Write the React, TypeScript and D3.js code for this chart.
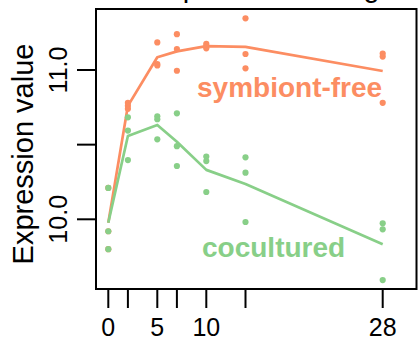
import React from "react";
import * as d3 from "d3";

const days = [0, 2, 5, 7, 10, 14, 28];
const symbiontFree = [
  [10.21, 9.92, 9.8],
  [10.78, 10.76, 10.74],
  [11.185, 11.04, 11.03],
  [11.24, 11.14, 10.995],
  [11.175, 11.16, 11.145],
  [11.346, 11.107, 11.011],
  [11.11, 11.09, 10.78],
];
const cocultured = [
  [10.21, 9.92, 9.8],
  [10.683, 10.594, 10.397],
  [10.69, 10.67, 10.536],
  [10.71, 10.49, 10.357],
  [10.42, 10.39, 10.183],
  [10.415, 10.312, 9.982],
  [9.973, 9.933, 9.593],
];
const xTicks = [0, 2, 5, 7, 10, 14, 28];
const xTickLabels = [0, 5, 10, 28];
const yTicks = [10, 10.5, 11];
const yTickLabels = [10, 11];

const ORANGE = "#FC8D62";
const GREEN = "#88CF88";
const FONT = "'Liberation Sans', Arial, Helvetica, sans-serif";

export default function App() {
  const x = d3.scaleLinear().domain([0, 28]).range([108.3, 382.7]);
  const y = d3.scaleLinear().domain([10, 11]).range([219.3, 70]);
  const box = { l: 96, r: 416.5, t: 9, b: 289 };

  const line = d3
    .line<number>()
    .x((_, i) => x(days[i]))
    .y((v) => y(v));

  const series = [
    { data: symbiontFree, color: ORANGE },
    { data: cocultured, color: GREEN },
  ];

  return (
    <svg
      width={419}
      height={340}
      style={{ position: "absolute", left: 0, top: 0 }}
      fontFamily={FONT}
    >
      <rect width={419} height={340} fill="white" />
      <text x={149} y={-3} fontSize={29} fill="black">
        Expression change
      </text>
      {series.map((s, si) => (
        <g key={si}>
          {s.data.map((reps, i) =>
            reps.map((v, j) => (
              <circle key={`${i}-${j}`} cx={x(days[i])} cy={y(v)} r={3.1} fill={s.color} />
            ))
          )}
          <path
            d={line(s.data.map((reps) => d3.mean(reps) as number)) || ""}
            fill="none"
            stroke={s.color}
            strokeWidth={2.7}
            strokeLinejoin="round"
          />
        </g>
      ))}
      <text x={197} y={97} fontSize={28} fontWeight="bold" fill={ORANGE}>
        symbiont-free
      </text>
      <text x={202} y={257} fontSize={28} fontWeight="bold" fill={GREEN}>
        cocultured
      </text>
      <rect
        x={box.l}
        y={box.t}
        width={box.r - box.l}
        height={box.b - box.t}
        fill="none"
        stroke="black"
        strokeWidth={2}
      />
      {xTicks.map((t) => (
        <line key={t} x1={x(t)} x2={x(t)} y1={box.b} y2={box.b + 19} stroke="black" strokeWidth={2} />
      ))}
      {xTickLabels.map((t) => (
        <text key={t} x={x(t)} y={335.5} fontSize={25} textAnchor="middle">
          {t}
        </text>
      ))}
      {yTicks.map((t) => (
        <line key={t} x1={box.l - 19} x2={box.l} y1={y(t)} y2={y(t)} stroke="black" strokeWidth={2} />
      ))}
      {yTickLabels.map((t) => (
        <text
          key={t}
          transform={`translate(66.5,${y(t)}) rotate(-90)`}
          fontSize={25}
          textAnchor="middle"
        >
          {d3.format(".1f")(t)}
        </text>
      ))}
      <text transform="translate(33,154) rotate(-90)" fontSize={29} textAnchor="middle">
        Expression value
      </text>
    </svg>
  );
}
